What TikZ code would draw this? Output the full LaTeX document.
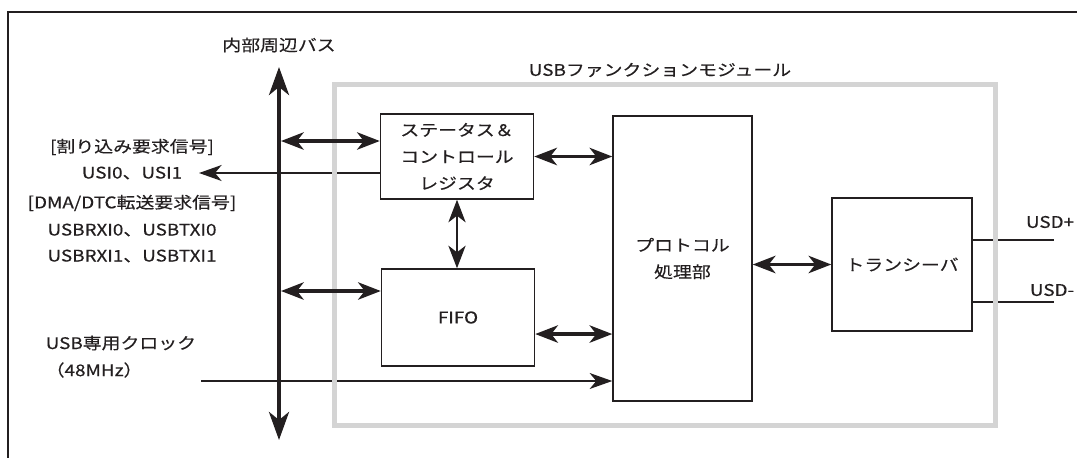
\documentclass[tikz,border=0pt]{standalone}
\definecolor{modgray}{RGB}{212, 212, 212}
\definecolor{inkblack}{RGB}{35, 31, 32}
\usepackage{fontspec}
\newfontfamily\jpfont[FakeStretch=1.18, FakeBold=0.4]{Noto Sans CJK JP}
\usepackage{tikz}
\usetikzlibrary{arrows.meta, positioning, calc}

\begin{document}
\begin{tikzpicture}[x=0.75pt, y=-0.75pt,
    every node/.style={font=\jpfont\fontsize{12pt}{20pt}\selectfont, text=inkblack, align=center},
    blockbox/.style={draw=inkblack, line width=1.1pt, inner sep=0pt},
    busarrow/.style={draw=inkblack, line width=3pt, {Stealth[length=21pt, width=15pt, inset=6pt]}-{Stealth[length=21pt, width=15pt, inset=6pt]}},
    dblarrow/.style={draw=inkblack, line width=2.6pt, {Stealth[length=17pt, width=13pt, inset=5pt]}-{Stealth[length=17pt, width=13pt, inset=5pt]}},
    sigarrow/.style={draw=inkblack, line width=1pt, -{Stealth[length=17pt, width=12pt, inset=5pt]}},
    sigline/.style={draw=inkblack, line width=1pt}]
    \useasboundingbox (0,0) rectangle (1077,458);

    % outer frame (top and left edge only)
    \draw[inkblack, line width=2pt] (1077,12) -- (8,12) -- (8,458);

    % blocks
    \node[blockbox, minimum width=114.75pt, minimum height=63.75pt] (stat) at (457,156.5) {ステータス＆\\コントロール\\レジスタ};
    \node[blockbox, minimum width=114.75pt, minimum height=72.75pt] (fifo) at (458,317.5) {FIFO};
    \node[blockbox, minimum width=104.25pt, minimum height=213.75pt] (prot) at (682.5,258.5) {プロトコル\\処理部};
    \node[blockbox, minimum width=105pt, minimum height=99.75pt] (xcvr) at (902,264.5) {トランシーバ};

    % labels
    \node (bus) at (279,45) {内部周辺バス};
    \node (mod) at (660,70) {USBファンクションモジュール};
    \node (irq) at (132,147) {[割り込み要求信号]};
    \node (usi) at (132,173) {USI0、USI1};
    \node (dma) at (132,203) {[DMA/DTC転送要求信号]};
    \node (rx0) at (132,230) {USBRXI0、USBTXI0};
    \node (rx1) at (132,256) {USBRXI1、USBTXI1};
    \node[anchor=west] (clkname) at (41,343) {USB専用クロック};
    \node[anchor=west] (clkfreq) at (41,370) {（48MHz）};
    \node (usdp) at (1050,222) {USD+};
    \node (usdm) at (1052,290) {USD-};

    % free ends
    \coordinate (bustop) at (279,67);
    \coordinate (busbot) at (279,440);
    \coordinate (busa) at (281,141);
    \coordinate (busb) at (281,291);
    \coordinate (usiend) at (199,173);
    \coordinate (clk) at (201,381);
    \coordinate (usdpend) at (1054,240);
    \coordinate (usdmend) at (1054,302);

    % thin signal lines
    \draw[sigarrow] (stat.west |- usi) -- (usiend);
    \draw[sigarrow] (clk) -- (clk -| prot.west);
    \draw[sigline] (usdpend -| xcvr.east) -- (usdpend);
    \draw[sigline] (usdmend -| xcvr.east) -- (usdmend);

    % module frame
    \draw[modgray, line width=3.75pt] (334,84.5) rectangle (995,425);

    % buses
    \draw[busarrow] (bustop) -- (busbot);
    \draw[dblarrow] (busa) -- (busa -| stat.west);
    \draw[dblarrow] (busb) -- (busb -| fifo.west);
    \draw[dblarrow] (stat.east) -- (stat.east -| prot.west);
    \draw[dblarrow] ([yshift=-12.4pt]fifo.east) -- ([yshift=-12.4pt]fifo.east -| prot.west);
    \draw[dblarrow] (xcvr.west -| prot.east) -- (xcvr.west);
    \draw[sigline, {Stealth[length=17pt, width=13pt, inset=5pt]}-{Stealth[length=17pt, width=13pt, inset=5pt]}] (stat.south) -- (stat.south |- fifo.north);
\end{tikzpicture}
\end{document}
